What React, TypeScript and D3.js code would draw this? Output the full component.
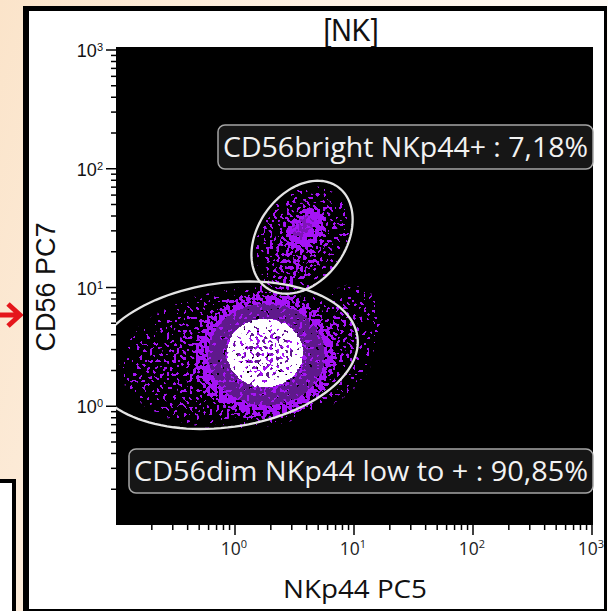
import React from "react";
import * as d3 from "d3";

const W = 608;
const H = 611;

// ---- axes (both log10, 10^-1 … 10^3)
const xDomain = [0.1, 1000];
const yDomain = [0.1, 1000];
const xLabelExponents = [0, 1, 2, 3];
const yLabelExponents = [0, 1, 2, 3];
const titleText = "[NK]";
const xAxisTitle = "NKp44 PC5";
const yAxisTitle = "CD56 PC7";

// ---- gates (centre in data units, radii in decades, angle in degrees)
const gateNames = ["CD56bright NKp44+", "CD56dim NKp44 low to +"];
const gatePercents = [7.18, 90.85];
const gateCenterX = [3.66, 0.82];
const gateCenterY = [26.5, 2.69];
const gateMajor = [0.52, 1.126];
const gateMinor = [0.37, 0.607];
const gateAngle = [55, 8];

// ---- event density (estimated density regions of the dot plot)
const blobLayer = [0, 0, 0, 0, 0, 0, 1, 2, 3];
const blobX = [1.25, 3.66, 2.63, 8.4, 1.79, 3.95, 1.84, 3.7, 1.79];
const blobY = [2.55, 26.1, 9.5, 4.39, 2.65, 31.1, 2.72, 32, 2.81];
const blobMajor = [1.08, 0.47, 0.42, 0.4, 0.6, 0.21, 0.49, 0.12, 0.32];
const blobMinor = [0.6, 0.37, 0.22, 0.3, 0.54, 0.14, 0.43, 0.075, 0.29];
const blobAngle = [5, 55, 60, 70, 0, 55, 0, 55, 0];
// density at radial offsets 0, 0.6, 0.85, 1
const blobDensity0 = [0.42, 0.5, 0.3, 0.2, 1.0, 1.0, 0.35, 0.75, 0.62];
const blobDensity60 = [0.25, 0.32, 0.18, 0.12, 0.97, 0.92, 0.45, 0.6, 0.66];
const blobDensity85 = [0.12, 0.15, 0.08, 0.05, 0.8, 0.7, 0.95, 0.4, 1.0];
const blobDensity100 = [0, 0, 0, 0, 0.3, 0.35, 0.8, 0.2, 0.9];
const densityOffsets = [0, 0.6, 0.85, 1];
const layerColors = ["#A514F5", "#5F198C", "#7E15B8", "#FFFFFF"];
const layerSeeds = [3, 8, 13, 21];

const locale = d3.formatLocale({ decimal: ",", thousands: ".", grouping: [3], currency: ["", "€"] });
const fmtPct = locale.format(".2f");

const x = d3.scaleLog().domain(xDomain).range([116, 592]);
const y = d3.scaleLog().domain(yDomain).range([525, 50]);

function gatePath(i: number): string {
  const lx = Math.log10(gateCenterX[i]);
  const ly = Math.log10(gateCenterY[i]);
  const th = (gateAngle[i] * Math.PI) / 180;
  const pts = d3.range(0, 361, 3).map((deg) => {
    const t = (deg * Math.PI) / 180;
    const a = gateMajor[i] * Math.cos(t);
    const b = gateMinor[i] * Math.sin(t);
    const px = lx + a * Math.cos(th) - b * Math.sin(th);
    const py = ly + a * Math.sin(th) + b * Math.cos(th);
    return [x(Math.pow(10, px)), y(Math.pow(10, py))] as [number, number];
  });
  return d3.line().curve(d3.curveLinearClosed)(pts) || "";
}

const labelBoxX = [218, 129];
const labelBoxY = [125, 449];
const labelTextLen = [365, 454];

function Sup({ base, exp, size, supSize, dy }: any) {
  return (
    <>
      <tspan fontSize={size}>{base}</tspan>
      <tspan fontSize={supSize} dy={dy}>{exp}</tspan>
    </>
  );
}

export default function App() {
  const isMajor = (v: number) => Math.abs(Math.log10(v) - Math.round(Math.log10(v))) < 1e-9;
  const xt = x.ticks().filter((v) => v > xDomain[0] * 1.01);
  const yt = y.ticks().filter((v) => v > yDomain[0] * 1.01);
  const px0 = x(xDomain[0]);
  const px1 = x(xDomain[1]);
  const py0 = y(yDomain[1]);
  const py1 = y(yDomain[0]);
  const layers = d3.range(layerColors.length);
  const dens = [blobDensity0, blobDensity60, blobDensity85, blobDensity100];

  return (
    <div style={{ position: "absolute", left: 0, top: 0 }}>
      <svg width={W} height={H} style={{ display: "block" }}>
        <defs>
          <linearGradient id="bgGrad" x1="0" y1="0" x2="1" y2="0.3">
            <stop offset="0" stopColor="#FBE4CA" />
            <stop offset="0.5" stopColor="#FDF1E4" />
            <stop offset="1" stopColor="#FFFCF8" />
          </linearGradient>
          <clipPath id="plotClip">
            <rect x={px0} y={py0 - 3} width={px1 - px0 + 1} height={py1 - py0 + 3} />
          </clipPath>
          {blobX.map((_, i) => (
            <radialGradient key={i} id={`bg${i}`}>
              {densityOffsets.map((o, j) => (
                <stop key={j} offset={o} stopColor="#fff" stopOpacity={dens[j][i]} />
              ))}
            </radialGradient>
          ))}
          {layers.map((k) => (
            <filter key={k} id={`sp${k}`} x="0" y="0" width={W} height={H} filterUnits="userSpaceOnUse" colorInterpolationFilters="sRGB">
              <feTurbulence type="fractalNoise" baseFrequency="0.3" numOctaves={1} seed={layerSeeds[k]} result="noise" />
              <feColorMatrix in="noise" type="matrix" values="0 0 0 0 0  0 0 0 0 0  0 0 0 0 0  3 0 0 0 -1" result="n" />
              <feComposite in="n" in2="SourceAlpha" operator="arithmetic" k1={0} k2={1} k3={1} k4={-1} result="m" />
              <feComponentTransfer in="m" result="bin">
                <feFuncA type="linear" slope={40} intercept={0} />
              </feComponentTransfer>
              <feFlood floodColor={layerColors[k]} result="c" />
              <feComposite in="c" in2="bin" operator="in" />
            </filter>
          ))}
        </defs>

        {/* page background */}
        <rect x={0} y={0} width={W} height={H} fill="url(#bgGrad)" />
        {/* side box bottom-left */}
        <rect x={-6} y={481} width={20} height={140} fill="#fff" stroke="#000" strokeWidth={4} />
        {/* red arrow */}
        <path d="M0,315 L19,315 M8,304 L20,315 L8,326" stroke="#E5161B" strokeWidth={5} fill="none" />
        {/* frame */}
        <rect x={23} y={6} width={584} height={610} fill="#000" />
        <rect x={29} y={11} width={575} height={598} fill="#fff" />

        {/* title */}
        <text x={351} y={41} textAnchor="middle" fontFamily="Liberation Sans, Arial, sans-serif" fontSize={32} textLength={55} lengthAdjust="spacingAndGlyphs" fill="#111">
          {titleText}
        </text>

        {/* plot background */}
        <rect x={px0} y={py0 - 3} width={px1 - px0 + 1} height={py1 - py0 + 3} fill="#000" />

        {/* density dots */}
        <g clipPath="url(#plotClip)">
          {layers.map((k) => (
            <g key={k} filter={`url(#sp${k})`}>
              {blobX.map((bx, i) => {
                if (blobLayer[i] !== k) return null;
                const cx = x(bx);
                const cy = y(blobY[i]);
                const rx = x(bx * Math.pow(10, blobMajor[i])) - cx;
                const ry = y(blobY[i]) - y(blobY[i] * Math.pow(10, blobMinor[i]));
                return (
                  <ellipse key={i} cx={cx} cy={cy} rx={rx} ry={ry} transform={`rotate(${-blobAngle[i]} ${cx} ${cy})`} fill={`url(#bg${i})`} />
                );
              })}
            </g>
          ))}
          {/* gates */}
          {gateNames.map((_, i) => (
            <path key={i} d={gatePath(i)} fill="none" stroke="#E4E4E4" strokeWidth={2.3} />
          ))}
        </g>

        {/* gate labels */}
        {gateNames.map((name, i) => (
          <g key={i}>
            <rect x={labelBoxX[i]} y={labelBoxY[i]} width={px1 + 1 - labelBoxX[i]} height={44} rx={7} fill="#161616" stroke="#A5A5A5" strokeWidth={1.5} />
            <text x={px1 - 4} y={labelBoxY[i] + 32} textAnchor="end" fontFamily="Open Sans, sans-serif" fontSize={28} fill="#F2F2F2" textLength={labelTextLen[i]} lengthAdjust="spacingAndGlyphs">
              {`${name} : ${fmtPct(gatePercents[i])}%`}
            </text>
          </g>
        ))}

        {/* y ticks */}
        {yt.map((v, i) => (
          <line key={i} x1={px0 - (isMajor(v) ? 10 : 5)} x2={px0} y1={y(v)} y2={y(v)} stroke="#000" strokeWidth={1.5} />
        ))}
        {yLabelExponents.map((e) => (
          <text key={e} x={103} y={y(Math.pow(10, e)) + 7} textAnchor="end" fontFamily="Liberation Sans, Arial, sans-serif" fill="#111">
            <Sup base="10" exp={String(e)} size={18} supSize={11} dy={-6} />
          </text>
        ))}

        {/* x ticks */}
        {xt.map((v, i) => (
          <line key={i} y1={py1} y2={py1 + (isMajor(v) ? 10 : 5)} x1={x(v)} x2={x(v)} stroke="#000" strokeWidth={1.5} />
        ))}
        {xLabelExponents.map((e) => (
          <text key={e} x={x(Math.pow(10, e)) - 1} y={py1 + 30} textAnchor="middle" fontFamily="Open Sans, sans-serif" fill="#222">
            <Sup base="10" exp={String(e)} size={17.5} supSize={11} dy={-7} />
          </text>
        ))}

        {/* axis titles */}
        <text x={355} y={598} textAnchor="middle" fontFamily="Open Sans, sans-serif" fontSize={25} textLength={144} lengthAdjust="spacingAndGlyphs" fill="#111">
          {xAxisTitle}
        </text>
        <text transform="translate(55,287) rotate(-90)" textAnchor="middle" fontFamily="Liberation Sans, Arial, sans-serif" fontSize={27} fill="#111">
          {yAxisTitle}
        </text>
      </svg>
    </div>
  );
}
